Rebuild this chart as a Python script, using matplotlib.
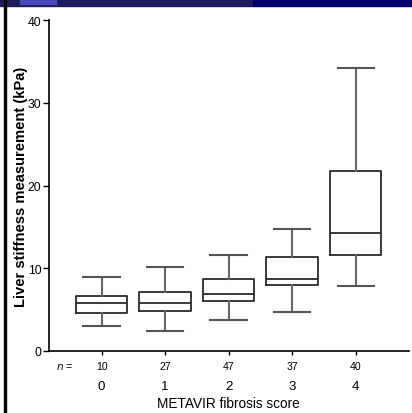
import matplotlib
matplotlib.use("Agg")
import matplotlib.pyplot as plt
from matplotlib.patches import Rectangle

plt.rcParams['font.family'] = ['Liberation Sans', 'DejaVu Sans']

# METAVIR fibrosis stage and liver stiffness summary (kPa)
stages = ["0", "1", "2", "3", "4"]
n_patients = [10, 27, 47, 37, 40]
whisker_low = [3.0, 2.4, 3.8, 4.7, 7.9]
q1 = [4.6, 4.8, 6.0, 8.0, 11.6]
median = [5.8, 5.8, 6.9, 8.75, 14.2]
q3 = [6.7, 7.1, 8.7, 11.3, 21.75]
whisker_high = [8.9, 10.1, 11.6, 14.7, 34.2]
y_ticks = [0, 10, 20, 30, 40]

W, H = 412, 414
fig = plt.figure(figsize=(W / 100, H / 100), dpi=100)

# slide header strip and left frame line
fig.patches.append(Rectangle((0, 1 - 7 / H), 253 / W, 7 / H, transform=fig.transFigure,
                             color="#1c1c5c", zorder=0))
fig.patches.append(Rectangle((253 / W, 1 - 7 / H), 1, 7 / H, transform=fig.transFigure,
                             color="#00006e", zorder=0))
fig.patches.append(Rectangle((20 / W, 1 - 5 / H), 36 / W, 5 / H, transform=fig.transFigure,
                             color="#4848b8", zorder=1))
fig.patches.append(Rectangle((3.5 / W, 0), 2.5 / W, 1, transform=fig.transFigure,
                             color="#000000", zorder=1))

ax = fig.add_axes([49 / W, (H - 352) / H, (409 - 49) / W, (352 - 21) / H])

stats = []
for i in range(len(stages)):
    stats.append(dict(whislo=whisker_low[i], q1=q1[i], med=median[i], q3=q3[i],
                      whishi=whisker_high[i], fliers=[]))
pos = list(range(len(stages)))
ax.bxp(stats, positions=pos, widths=0.81, capwidths=0.57, showfliers=False,
       boxprops=dict(color="#2a2a2a", linewidth=1.3),
       medianprops=dict(color="#2a2a2a", linewidth=1.3),
       whiskerprops=dict(color="#666666", linewidth=1.5),
       capprops=dict(color="#555555", linewidth=1.5))

ax.set_ylim(0, 40)
ax.set_xlim(-0.827, 4.84)
ax.set_yticks(y_ticks)
ax.set_yticklabels([str(t) for t in y_ticks], fontsize=8.8)
ax.set_xticks(pos)
ax.set_xticklabels([])
ax.tick_params(axis="y", length=4, width=1, pad=1.5)
ax.tick_params(axis="x", length=3, width=1)
for s in ["top", "right"]:
    ax.spines[s].set_visible(False)
for s in ["left", "bottom"]:
    ax.spines[s].set_linewidth(1.2)

ax.set_ylabel("Liver stiffness measurement (kPa)", fontsize=10.6, fontweight="bold")
ax.yaxis.set_label_coords(-0.078, 0.5)
ax.yaxis.label.set_va("center")

# sample-size row and stage labels below the axis
tr = ax.get_xaxis_transform()
ax.text(-0.72, -0.044, "$n$ =", transform=tr, ha="left", va="center", fontsize=7.6)
for i, (st, n) in enumerate(zip(stages, n_patients)):
    ax.text(i, -0.044, str(n), transform=tr, ha="center", va="center", fontsize=7.6)
    ax.text(i, -0.106, st, transform=tr, ha="center", va="center", fontsize=9.6)
ax.text(2, -0.157, "METAVIR fibrosis score", transform=tr, ha="center", va="center",
        fontsize=9.8)

fig.savefig("out.png", dpi=100)
